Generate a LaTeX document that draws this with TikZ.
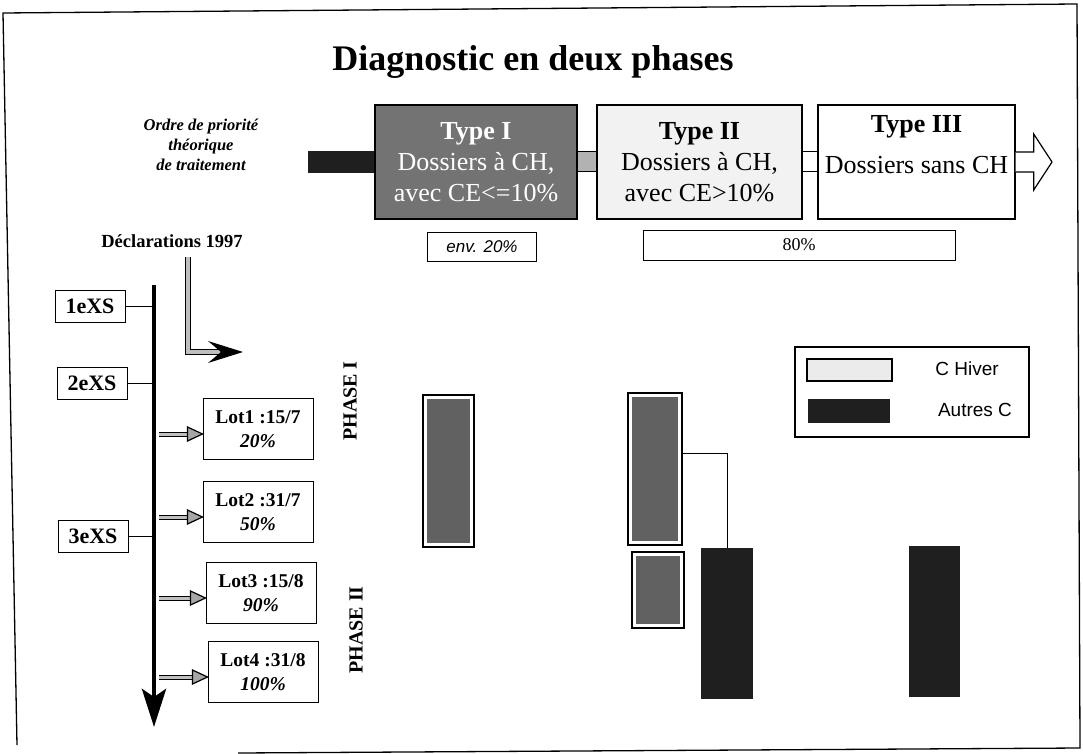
\documentclass[tikz,border=0pt]{standalone}
\usepackage{fontspec}
\setmainfont{Liberation Serif}
\setsansfont{Liberation Sans}
\usetikzlibrary{arrows.meta, calc}

\begin{document}
\begin{tikzpicture}[x=1pt, y=-1pt, >=latex,
			box/.style={draw, line width=1pt, inner sep=0pt, align=center},
			typ/.style={box, line width=1.4pt, minimum height=114pt, font=\fontsize{26}{31}\selectfont},
			xs/.style={box, minimum width=70pt, minimum height=32pt, font=\fontsize{22}{24}\selectfont\bfseries},
			lot/.style={box, minimum width=110pt, minimum height=61pt, font=\fontsize{19.5}{24}\selectfont\bfseries},
			balken/.style={draw, line width=1.3pt, fill=white, inner sep=0pt,
				path picture={\fill[black!62] ([shift={(4pt,4pt)}]path picture bounding box.south west) rectangle ([shift={(-4pt,-4pt)}]path picture bounding box.north east);}},
			schwarz/.style={fill=black!88, inner sep=0pt},
			doppel/.style={double=black!25, double distance=3pt, line width=1pt},
			phase/.style={rotate=90, font=\fontsize{20}{22}\selectfont\bfseries}]
			\useasboundingbox (0,0) rectangle (1083,754);
			%Rahmen zeichnen
			\draw[line width=1.3pt] (17,745) -- (3,13) -- (1077,4) -- (1080,748) -- (238,753);
			% Titel
			\node[font=\fontsize{36}{40}\selectfont\bfseries] (titel) at (533,62) {Diagnostic en deux phases};
			\node[align=center, font=\fontsize{16.5}{20}\selectfont\bfseries\itshape] (ordre) at (201,145) {Ordre de priorité\\théorique\\de traitement};
			% Typen
			\node[typ, fill=black!55, text=white, minimum width=202pt] (t1) at (476,162) {\textbf{Type I}\\Dossiers à CH,\\avec CE<=10\%};
			\node[typ, fill=black!5, minimum width=205pt] (t2) at (699.5,162) {\textbf{Type II}\\Dossiers à CH,\\avec CE>10\%};
			\node[typ, fill=white, minimum width=197pt] (t3) at (916.5,162) {\textbf{Type III}\\[10pt]Dossiers sans CH\\[-6pt]\strut};
			% Breiter Pfeil
			\coordinate (start) at (308,162);
			\coordinate (ziel) at (1052,162);
			\fill[black!88] ([yshift=11pt]start) rectangle ([yshift=-11pt]t1.west);
			\filldraw[fill=black!30, line width=1pt] ([yshift=10pt]t1.east) rectangle ([yshift=-10pt]t2.west);
			\filldraw[fill=white, line width=1pt] ([yshift=10pt]t2.east) rectangle ([yshift=-10pt]t3.west);
			\filldraw[fill=white, line width=1.2pt] ([yshift=10pt]t3.east) -- ([xshift=18pt,yshift=10pt]t3.east) -- ([xshift=18pt,yshift=28pt]t3.east)
				-- (ziel) -- ([xshift=18pt,yshift=-28pt]t3.east) -- ([xshift=18pt,yshift=-10pt]t3.east) -- ([yshift=-10pt]t3.east);
			% Anteile
			\node[box, minimum width=109pt, minimum height=29pt, font=\sffamily\itshape\fontsize{17}{19}\selectfont] (env) at (482,247) {env. 20\%};
			\node[box, minimum width=312pt, minimum height=30pt, font=\fontsize{18}{20}\selectfont] (rest) at (799,245) {80\%};
			% Declarations
			\node[font=\fontsize{18.5}{20}\selectfont\bfseries] (decl) at (172,241) {Déclarations 1997};
			\coordinate (knick) at (188,352);
			\coordinate (spitze) at (243,352);
			\draw[doppel, double distance=4pt] ([yshift=-6pt]decl.south -| knick) -- (knick) -- ([xshift=-21pt]spitze);
			\fill ([xshift=-35pt,yshift=11pt]spitze) -- (spitze) -- ([xshift=-35pt,yshift=-11pt]spitze) -- ([xshift=-22pt]spitze) -- cycle;
			% Zeitachse
			\coordinate (oben) at (154,285);
			\coordinate (unten) at (154,727);
			\draw[line width=4.8pt, -{Stealth[length=38pt,width=24pt,inset=8pt]}] (oben) -- (unten);
			\node[xs] (xs1) at (90,306) {1eXS};
			\node[xs] (xs2) at (92,383) {2eXS};
			\node[xs] (xs3) at (93,536) {3eXS};
			\foreach \n in {1,2,3} \draw[line width=1pt] (xs\n.east) -- (xs\n.east -| oben);
			% Lots
			\node[lot] (lot1) at (258,429) {Lot1 :15/7\\\textit{20\%}};
			\node[lot] (lot2) at (258,512) {Lot2 :31/7\\\textit{50\%}};
			\node[lot] (lot3) at (261,593) {Lot3 :15/8\\\textit{90\%}};
			\node[lot] (lot4) at (263,672) {Lot4 :31/8\\\textit{100\%}};
			\foreach \n in {1,...,4} {
				\draw[doppel] ($(lot\n.west -| oben)+(5,5)$) -- ($(lot\n.west)+(-12,5)$);
				\filldraw[fill=black!35, line width=1.2pt] ($(lot\n.west)+(0,5)$) -- ($(lot\n.west)+(-15,-2)$) -- ($(lot\n.west)+(-15,12)$) -- cycle;
			}
			% Phasen
			\node[phase] (ph1) at (350,401) {PHASE I};
			\node[phase] (ph2) at (356,630) {PHASE II};
			% Balken
			\node[balken, minimum width=51pt, minimum height=152pt] (a) at (448.5,471) {};
			\node[balken, minimum width=54pt, minimum height=152pt] (b) at (655,469) {};
			\node[balken, minimum width=52pt, minimum height=76pt] (c) at (658,590) {};
			\node[schwarz, minimum width=52pt, minimum height=151pt] (d) at (727,623.5) {};
			\node[schwarz, minimum width=51pt, minimum height=151pt] (e) at (934.5,621.5) {};
			\draw[line width=1pt] ([yshift=16pt]b.east) -| (d.north);
			% Legende
			\node[box, line width=1.3pt, minimum width=234pt, minimum height=90pt] (legende) at (912,392) {};
			\node[draw, line width=1.3pt, fill=black!8, minimum width=85pt, minimum height=22pt, inner sep=0pt] (ch) at (849.5,370) {};
			\node[schwarz, minimum width=82pt, minimum height=24pt] (ac) at (849,411) {};
			\node[font=\sffamily\fontsize{19}{20}\selectfont] (chtext) at (967,369) {C Hiver};
			\node[font=\sffamily\fontsize{19}{20}\selectfont] (actext) at (975,410) {Autres C};
		\end{tikzpicture}
\end{document}
